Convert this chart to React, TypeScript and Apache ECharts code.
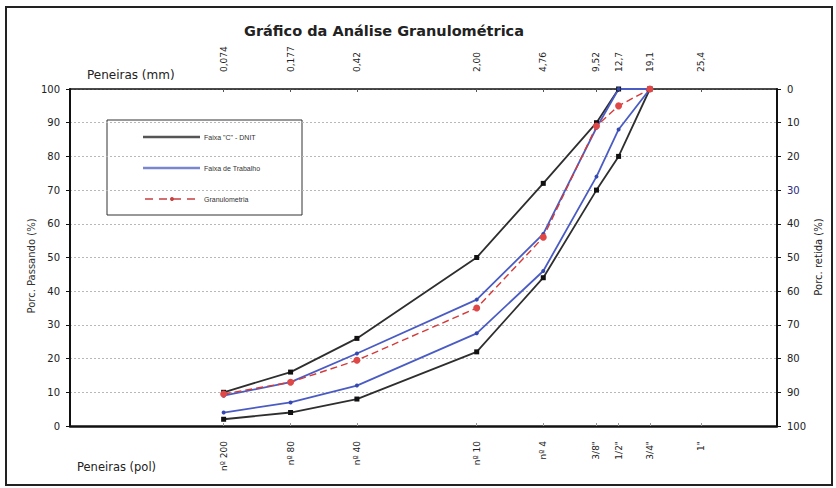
import React, { useEffect, useRef } from "react";
import * as echarts from "echarts";

// Sieve openings (mm) at which values are plotted
const sieveMm = [0.074, 0.177, 0.42, 2.0, 4.76, 9.52, 12.7, 19.1];
// Faixa "C" - DNIT limits (% passing)
const dnitUpper = [10, 16, 26, 50, 72, 90, 100, 100];
const dnitLower = [2, 4, 8, 22, 44, 70, 80, 100];
// Faixa de Trabalho limits (% passing)
const workUpper = [9, 13, 21.5, 37.5, 57, 88.5, 100, 100];
const workLower = [4, 7, 12, 27.5, 46, 74, 88, 100];
// Granulometria (% passing)
const granulometria = [9.5, 13, 19.5, 35, 56, 89, 95, 100];

// Tick positions on the sieve axes (mm) and their labels
const tickPositionsMm = [0.074, 0.177, 0.42, 2.0, 4.76, 9.52, 12.7, 19.1, 37.2];
const mmTickLabels = ["0,074", "0,177", "0,42", "2,00", "4,76", "9,52", "12,7", "19,1", "25,4"];
const polTickLabels = ["nº 200", "nº 80", "nº 40", "nº 10", "nº 4", "3/8\"", "1/2\"", "3/4\"", "1\""];

const FONT = "DejaVu Sans, Verdana, sans-serif";
const SMALL = "Liberation Sans, Arial, sans-serif";

function nearestIndex(v: number): number {
  let best = 0;
  let bd = Infinity;
  tickPositionsMm.forEach((t, i) => {
    const d = Math.abs(Math.log(t) - Math.log(v));
    if (d < bd) {
      bd = d;
      best = i;
    }
  });
  return best;
}

const pairs = (arr: number[]) => sieveMm.map((x, i) => [x, arr[i]]);

export default function App() {
  const ref = useRef<HTMLDivElement>(null);
  useEffect(() => {
    if (!ref.current) return;
    const chart = echarts.init(ref.current, null, { renderer: "svg" });
    const black = "#2e2e2e";
    const blue = "#4a5cc4";
    const red = "#d43a3a";
    const lineSeries = (name: string, data: number[], color: string, symbol: string, size: number, markColor: string, extra: any = {}, z = 3) => ({
      name,
      type: "line",
      xAxisIndex: 0,
      yAxisIndex: 0,
      data: pairs(data),
      symbol,
      symbolSize: size,
      showSymbol: true,
      itemStyle: { color: markColor },
      lineStyle: { color, width: 1.8, ...extra },
      z,
    });
    const option: any = {
      animation: false,
      grid: { left: 70, right: 59, top: 89, bottom: 62 },
      xAxis: [
        {
          type: "log",
          logBase: 10,
          min: 0.01,
          max: 100,
          position: "bottom",
          axisLine: { show: true, lineStyle: { color: "#111", width: 2.5 } },
          axisTick: { show: true, customValues: tickPositionsMm, length: 3, inside: true, lineStyle: { color: "#999" } },
          minorTick: { show: false },
          splitLine: { show: false },
          axisLabel: {
            customValues: tickPositionsMm,
            formatter: (v: number) => polTickLabels[nearestIndex(v)],
            rotate: 90,
            margin: 15,
            fontSize: 9,
            fontFamily: FONT,
            color: "#222",
          },
        },
        {
          type: "log",
          logBase: 10,
          min: 0.01,
          max: 100,
          position: "top",
          axisLine: { show: true, lineStyle: { color: "#111", width: 1.6 } },
          axisTick: { show: true, customValues: tickPositionsMm, length: 3, inside: true, lineStyle: { color: "#555" } },
          minorTick: { show: false },
          splitLine: { show: false },
          axisLabel: {
            customValues: tickPositionsMm,
            formatter: (v: number) => mmTickLabels[nearestIndex(v)],
            rotate: 90,
            margin: 17,
            fontSize: 9,
            fontFamily: FONT,
            color: "#222",
          },
        },
      ],
      yAxis: [
        {
          type: "value",
          min: 0,
          max: 100,
          interval: 10,
          position: "left",
          axisLine: { show: true, lineStyle: { color: "#111", width: 2 } },
          axisTick: { show: true, length: 4, lineStyle: { color: "#111" } },
          axisLabel: { fontSize: 10, fontFamily: FONT, color: "#222", margin: 10 },
          splitLine: { show: true, lineStyle: { color: "#b8b8b8", type: [2, 2], width: 1 } },
        },
        {
          type: "value",
          min: 0,
          max: 100,
          interval: 10,
          inverse: true,
          position: "right",
          axisLine: { show: true, lineStyle: { color: "#111", width: 2 } },
          axisTick: { show: true, length: 4, lineStyle: { color: "#111" } },
          axisLabel: {
            fontSize: 10,
            fontFamily: FONT,
            color: "#222",
            margin: 10,
            formatter: (v: number) => (v === 30 ? "{n|30}" : String(v)),
            rich: { n: { color: "#2a2a7a", fontSize: 10, fontFamily: FONT } },
          },
          splitLine: { show: false },
        },
      ],
      series: [
        lineSeries("Faixa \"C\" - DNIT", dnitUpper, black, "rect", 5, "#111"),
        lineSeries("Faixa \"C\" - DNIT", dnitLower, black, "rect", 5, "#111"),
        lineSeries("Faixa de Trabalho", workUpper, blue, "circle", 4, "#3448b0"),
        lineSeries("Faixa de Trabalho", workLower, blue, "circle", 4, "#3448b0"),
        lineSeries("Granulometria", granulometria, red, "circle", 7, "#e04848", { type: [7, 4], width: 1.4 }, 5),
      ],
      graphic: [
        {
          type: "rect",
          silent: true,
          z: 0,
          shape: { x: 6, y: 7, width: 826, height: 478 },
          style: { fill: "none", stroke: "#222", lineWidth: 2 },
        },
        {
          type: "text",
          x: 384,
          y: 31,
          style: {
            text: "Gráfico da Análise Granulométrica",
            font: `bold 14.5px ${FONT}`,
            fill: "#222",
            textAlign: "center",
            textVerticalAlign: "middle",
          },
        },
        {
          type: "text",
          x: 87,
          y: 75,
          style: { text: "Peneiras (mm)", font: `12px ${FONT}`, fill: "#222", textAlign: "left", textVerticalAlign: "middle" },
        },
        {
          type: "text",
          x: 77,
          y: 467,
          style: { text: "Peneiras (pol)", font: `11.5px ${FONT}`, fill: "#222", textAlign: "left", textVerticalAlign: "middle" },
        },
        {
          type: "text",
          x: 31,
          y: 266,
          rotation: Math.PI / 2,
          style: { text: "Porc. Passando (%)", font: `10px ${FONT}`, fill: "#333", textAlign: "center", textVerticalAlign: "middle" },
        },
        {
          type: "text",
          x: 818,
          y: 257,
          rotation: Math.PI / 2,
          style: { text: "Porc. retida (%)", font: `10px ${FONT}`, fill: "#222", textAlign: "center", textVerticalAlign: "middle" },
        },
        {
          type: "group",
          z: 100,
          children: [
            {
              type: "rect",
              shape: { x: 107, y: 120, width: 195, height: 95 },
              style: { fill: "#fff", stroke: "#333", lineWidth: 1 },
            },
            {
              type: "line",
              shape: { x1: 143, y1: 137, x2: 200, y2: 137 },
              style: { stroke: "#555", lineWidth: 2.5 },
            },
            {
              type: "text",
              x: 204,
              y: 137,
              style: { text: "Faixa \"C\" - DNIT", font: `7px ${SMALL}`, fill: "#333", textVerticalAlign: "middle" },
            },
            {
              type: "line",
              shape: { x1: 143, y1: 168, x2: 200, y2: 168 },
              style: { stroke: "#7a86d0", lineWidth: 2.5 },
            },
            {
              type: "text",
              x: 204,
              y: 168,
              style: { text: "Faixa de Trabalho", font: `7px ${SMALL}`, fill: "#333", textVerticalAlign: "middle" },
            },
            {
              type: "line",
              shape: { x1: 145, y1: 199, x2: 200, y2: 199 },
              style: { stroke: "#c84040", lineWidth: 1.3, lineDash: [8, 6] },
            },
            {
              type: "circle",
              shape: { cx: 172, cy: 199, r: 2 },
              style: { fill: "#c84040" },
            },
            {
              type: "text",
              x: 204,
              y: 199,
              style: { text: "Granulometria", font: `7px ${SMALL}`, fill: "#333", textVerticalAlign: "middle" },
            },
          ],
        },
      ],
    };
    chart.setOption(option);
    return () => chart.dispose();
  }, []);
  return (
    <div
      ref={ref}
      style={{ position: "fixed", left: 0, top: 0, width: 836, height: 488, background: "#fff" }}
    />
  );
}
